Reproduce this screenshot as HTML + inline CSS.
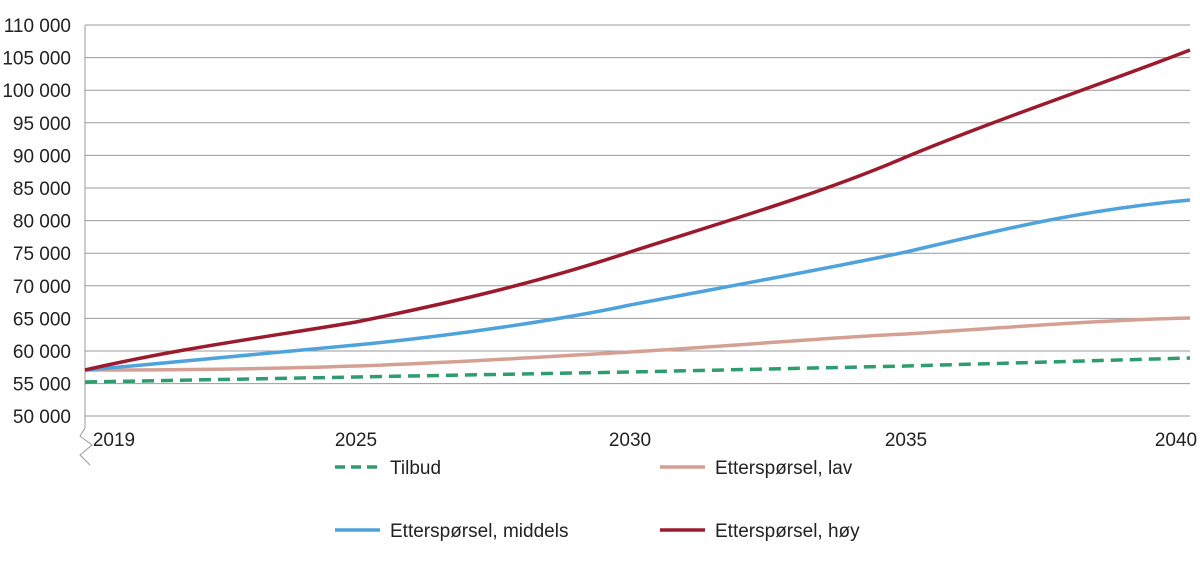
<!DOCTYPE html>
<html><head><meta charset="utf-8"><style>
body{margin:0;background:#fff;}
svg text{font-family:"Liberation Sans",sans-serif;fill:#222;}
</style></head><body>
<svg width="1200" height="558" viewBox="0 0 1200 558">
<g stroke="#9a9a9a" stroke-width="1">
<line x1="85" y1="25" x2="1190" y2="25"/>
<line x1="85" y1="57.6" x2="1190" y2="57.6"/>
<line x1="85" y1="90.2" x2="1190" y2="90.2"/>
<line x1="85" y1="122.8" x2="1190" y2="122.8"/>
<line x1="85" y1="155.4" x2="1190" y2="155.4"/>
<line x1="85" y1="188" x2="1190" y2="188"/>
<line x1="85" y1="220.6" x2="1190" y2="220.6"/>
<line x1="85" y1="253.2" x2="1190" y2="253.2"/>
<line x1="85" y1="285.8" x2="1190" y2="285.8"/>
<line x1="85" y1="318.4" x2="1190" y2="318.4"/>
<line x1="85" y1="351" x2="1190" y2="351"/>
<line x1="85" y1="383.6" x2="1190" y2="383.6"/>
<line x1="85" y1="416" x2="1190" y2="416"/>
<line x1="85" y1="25" x2="85" y2="428"/>
<polyline fill="none" points="85,428 80,436 92,445 80,455 90,465"/>
</g>
<g font-size="19" text-anchor="end">
<text x="71" y="32">110 000</text>
<text x="71" y="64.6">105 000</text>
<text x="71" y="97.2">100 000</text>
<text x="71" y="129.8">95 000</text>
<text x="71" y="162.4">90 000</text>
<text x="71" y="195">85 000</text>
<text x="71" y="227.6">80 000</text>
<text x="71" y="260.2">75 000</text>
<text x="71" y="292.8">70 000</text>
<text x="71" y="325.4">65 000</text>
<text x="71" y="358">60 000</text>
<text x="71" y="390.6">55 000</text>
<text x="71" y="423">50 000</text>
</g>
<g font-size="19" text-anchor="middle">
<text x="114" y="446">2019</text>
<text x="356" y="446">2025</text>
<text x="630" y="446">2030</text>
<text x="906" y="446">2035</text>
<text x="1176" y="446">2040</text>
</g>
<g fill="none" stroke-width="3.5" stroke-linejoin="round">
<path stroke="#2e9c6e" stroke-dasharray="12,7" d="M85,382 L356,377 L630,372 L906,366 L1190,358"/>
<path stroke="#d4a094" d="M85,370 C200,370 260,369 356,366 C450,363 540,357 630,352 C760,344 850,336 906,334 C1000,328 1100,320 1190,318"/>
<path stroke="#4fa3dc" d="M85,370 C180,362 280,352 356,345 C450,336 560,320 630,305 C730,286 820,270 906,252 C1000,230 1080,210 1190,200"/>
<path stroke="#9b1a2e" d="M85,370 C180,348 280,335 356,322 C450,303 540,282 630,252 C720,223 820,194 906,157 C1000,118 1100,85 1190,50"/>
</g>
<g stroke-width="3.5">
<line x1="335" y1="467" x2="380" y2="467" stroke="#2e9c6e" stroke-dasharray="10,6"/>
<line x1="335" y1="530" x2="380" y2="530" stroke="#4fa3dc"/>
<line x1="660" y1="467" x2="705" y2="467" stroke="#d4a094"/>
<line x1="660" y1="530" x2="705" y2="530" stroke="#9b1a2e"/>
</g>
<g font-size="19">
<text x="390" y="474">Tilbud</text>
<text x="390" y="537">Etterspørsel, middels</text>
<text x="715" y="474">Etterspørsel, lav</text>
<text x="715" y="537">Etterspørsel, høy</text>
</g>
</svg>
</body></html>
